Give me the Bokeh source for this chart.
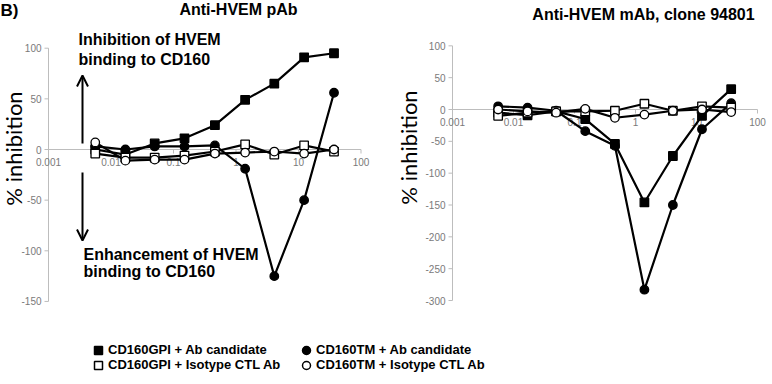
import math
from bokeh.plotting import figure
from bokeh.layouts import column, row
from bokeh.models import Label, Arrow, OpenHead, Legend, LegendItem, Range1d
from bokeh.embed import file_html
from bokeh.resources import INLINE
from bokeh.core.properties import value

# ---------------- data ----------------
conc = [0.0056, 0.017, 0.05, 0.15, 0.46, 1.4, 4.1, 12.3, 37]

# Left panel: Anti-HVEM pAb
pab_gpi_ab = [0, -5, 6, 11, 24, 49, 65, 91, 95]
pab_tm_ab = [3, 0, 3, 3, 4, -19, -125, -50, 56]
pab_gpi_iso = [-4, -8, -8, -6, -2, 5, -5, 4, -2]
pab_tm_iso = [7, -11, -10, -10, -4, -3, -2, -4, 0]

# Right panel: Anti-HVEM mAb, clone 94801
mab_gpi_ab = [-5, -9, -3, -15, -54, -146, -73, -10, 32]
mab_tm_ab = [5, 3, -2, -34, -57, -283, -150, -31, 10]
mab_gpi_iso = [-10, -5, -3, -3, -2, 9, -2, 5, 3]
mab_tm_iso = [0, -3, -5, 1, -13, -8, -2, 0, -4]

series_names = ["CD160GPI + Ab candidate", "CD160TM + Ab candidate",
                "CD160GPI + Isotype CTL Ab", "CD160TM + Isotype CTL Ab"]

x_ticks = [0.001, 0.01, 0.1, 1, 10, 100]
x_tick_labels = ["0.001", "0.01", "0.1", "1", "10", "100"]
left_yticks = [-150, -100, -50, 0, 50, 100]
right_yticks = [-300, -250, -200, -150, -100, -50, 0, 50, 100]

# ---------------- styles ----------------
FONT = "Liberation Sans"
AXIS_GRAY = "#bdbdbd"
TICK_GRAY = "#7a7a7a"
PANEL_H = 318
styles = [
    dict(marker="square", fill_color="black"),
    dict(marker="circle", fill_color="black"),
    dict(marker="square", fill_color="white"),
    dict(marker="circle", fill_color="white"),
]


def make_panel(width, axis_px, decade_px, zero_px, unit_px, yticks, series):
    # layout: the y-axis (x = 0.001) sits axis_px from the left edge,
    # y = 0 sits zero_px from the top; unit_px pixels per % unit
    x0 = math.log10(x_ticks[0])
    xr = Range1d(10 ** (x0 - axis_px / decade_px), 10 ** (x0 + (width - axis_px) / decade_px))
    yr = Range1d(-(PANEL_H - zero_px) / unit_px, zero_px / unit_px)
    p = figure(width=width, height=PANEL_H, x_axis_type="log", x_range=xr, y_range=yr,
               output_backend="svg", toolbar_location=None, min_border=0,
               x_axis_location=None, y_axis_location=None)
    p.grid.visible = False
    p.outline_line_color = None

    # y axis at x = 0.001
    ny = len(yticks)
    p.line(x=[x_ticks[0]] * 2, y=[min(yticks), max(yticks)], line_color=AXIS_GRAY, line_width=1)
    p.ray(x=[x_ticks[0]] * ny, y=yticks, length=4, length_units="screen", angle=math.pi,
          line_color=AXIS_GRAY, line_width=1)
    p.text(x=[x_ticks[0]] * ny, y=yticks, text=[str(t) for t in yticks],
           text_align="right", text_baseline="middle", x_offset=-7,
           text_font=value(FONT), text_font_size=value("10px"), text_color=TICK_GRAY)
    # x axis crossing at y = 0
    nx = len(x_ticks)
    p.line(x=[x_ticks[0], x_ticks[-1]], y=[0, 0], line_color=AXIS_GRAY, line_width=1.2)
    p.ray(x=x_ticks, y=[0] * nx, length=4, length_units="screen", angle=-math.pi / 2,
          line_color=AXIS_GRAY, line_width=1)
    p.text(x=x_ticks, y=[0] * nx, text=x_tick_labels, text_align="center",
           text_baseline="top", y_offset=8,
           text_font=value(FONT), text_font_size=value("10px"), text_color=TICK_GRAY)

    for vals in series:
        p.line(x=conc, y=vals, line_color="black", line_width=2.2)
    for vals, st in zip(series, styles):
        p.scatter(x=conc, y=vals, marker=st["marker"], size=8.5,
                  fill_color=st["fill_color"], line_color="black", line_width=1.3)
    return p


p1 = make_panel(385, 48, 62.5, 149, 1.013, left_yticks,
                [pab_gpi_ab, pab_tm_ab, pab_gpi_iso, pab_tm_iso])
p2 = make_panel(385, 67, 61.0, 109, 0.6367, right_yticks,
                [mab_gpi_ab, mab_tm_ab, mab_gpi_iso, mab_tm_iso])

bold = dict(text_font=FONT, text_font_style="bold", text_color="black")


def lab(p, x, y, text, size="16px", **kw):
    opts = dict(bold)
    opts.update(kw)
    p.add_layout(Label(x=x, y=y, x_units="screen", y_units="screen", text=text,
                       text_font_size=size, **opts))


# Left panel texts (screen px from the panel's bottom-left)
lab(p1, 0, 318, "B)", "17px", text_baseline="top")
lab(p1, 238, 318, "Anti-HVEM pAb", text_align="center", text_baseline="top")
lab(p1, 13, 170, "% inhibition", "22px", angle=math.pi / 2, text_align="center",
    text_baseline="middle", text_font="Lato", text_font_style="normal")
lab(p1, 78, 288, "Inhibition of HVEM", text_baseline="top")
lab(p1, 78, 268, "binding to CD160", text_baseline="top")
lab(p1, 83, 73, "Enhancement of HVEM", text_baseline="top")
lab(p1, 83, 56, "binding to CD160", text_baseline="top")
p1.add_layout(Arrow(x_start=82, y_start=175, x_end=82, y_end=243,
                    start_units="screen", end_units="screen", line_width=2,
                    end=OpenHead(size=11, line_width=2)))
p1.add_layout(Arrow(x_start=82, y_start=146, x_end=82, y_end=78,
                    start_units="screen", end_units="screen", line_width=2,
                    end=OpenHead(size=11, line_width=2)))

# Right panel texts
lab(p2, 258, 313, "Anti-HVEM mAb, clone 94801", text_align="center", text_baseline="top")
lab(p2, 23, 171, "% inhibition", "22px", angle=math.pi / 2, text_align="center",
    text_baseline="middle", text_font="Lato", text_font_style="normal")

# Legend strip
pl = figure(width=770, height=62, output_backend="svg", toolbar_location=None,
            min_border=0, x_range=(0, 1), y_range=(0, 1),
            x_axis_location=None, y_axis_location=None)
pl.grid.visible = False
pl.outline_line_color = None
rs = [pl.scatter(x=conc, y=vals, marker=st["marker"], size=8, fill_color=st["fill_color"],
                 line_color="black", line_width=1.5, visible=False)
      for vals, st in zip([pab_gpi_ab, pab_tm_ab, pab_gpi_iso, pab_tm_iso], styles)]


def legend_row(items, y):
    return Legend(items=items, orientation="horizontal", location=(88, y),
                  glyph_width=20, glyph_height=20, label_width=180, label_height=15,
                  label_standoff=0, spacing=8, padding=0, margin=0,
                  border_line_color=None, background_fill_alpha=0,
                  inactive_fill_alpha=0,
                  label_text_font=FONT, label_text_font_style="bold",
                  label_text_font_size="13px", label_text_color="black")


pl.add_layout(legend_row([LegendItem(label=series_names[0], renderers=[rs[0]]),
                          LegendItem(label=series_names[1], renderers=[rs[1]])], 20.5))
pl.add_layout(legend_row([LegendItem(label=series_names[2], renderers=[rs[2]]),
                          LegendItem(label=series_names[3], renderers=[rs[3]])], 5.5))

layout = column(row(p1, p2), pl)
open("out.html", "w").write(file_html(layout, INLINE))
